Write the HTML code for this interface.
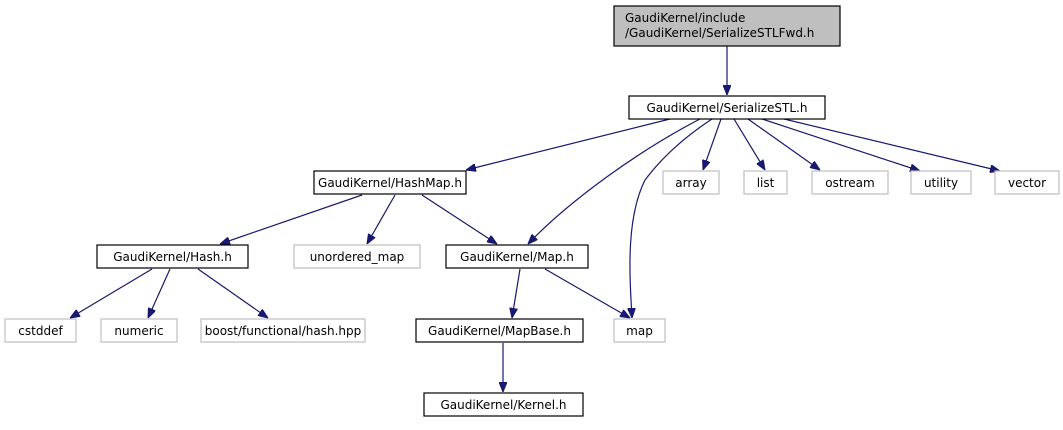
<!DOCTYPE html>
<html><head><meta charset="utf-8"><style>
body{margin:0;background:#fff}
svg text{font-family:"DejaVu Sans","Liberation Sans",sans-serif;font-size:12px}
</style></head><body>
<svg width="1063" height="425" viewBox="0 0 1063 425" xmlns="http://www.w3.org/2000/svg">
<defs><marker id="a" markerWidth="10" markerHeight="8" refX="10" refY="4" orient="auto" markerUnits="userSpaceOnUse"><path d="M0,0 L10,4 L0,8 Z" fill="#191970" stroke="#191970"/></marker></defs>
<g fill="none" stroke="#191970" stroke-width="1.2" marker-end="url(#a)">
<path d="M727,46 L727,95"/>
<path d="M670,119 L466,170"/>
<path d="M700,119 C640,150 570,200 528,244"/>
<path d="M712,119 C680,140 660,160 645,180 C625,220 630,280 632,318"/>
<path d="M721,119 L703,170"/>
<path d="M734,119 L765,170"/>
<path d="M748,119 L820,170"/>
<path d="M762,119 L920,171"/>
<path d="M784,119 L1000,171"/>
<path d="M362,195 L220,244"/>
<path d="M395,195 L367,244"/>
<path d="M422,195 L497,244"/>
<path d="M152,269 L70,318"/>
<path d="M170,269 L148,318"/>
<path d="M198,269 L268,318"/>
<path d="M520,269 L512,318"/>
<path d="M545,269 L630,318"/>
<path d="M503,343 L503,392"/>
</g>
<g stroke-width="1.2">
<rect x="614" y="6" width="226" height="40" fill="#bfbfbf" stroke="#000"/>
<rect x="629" y="96" width="196" height="23" fill="#fff" stroke="#000"/>
<rect x="314" y="171" width="152" height="23" fill="#fff" stroke="#000"/>
<rect x="97" y="245" width="151" height="23" fill="#fff" stroke="#000"/>
<rect x="446" y="245" width="142" height="23" fill="#fff" stroke="#000"/>
<rect x="416" y="319" width="167" height="23" fill="#fff" stroke="#000"/>
<rect x="424" y="393" width="159" height="23" fill="#fff" stroke="#000"/>
<g fill="#fff" stroke="#bfbfbf">
<rect x="663" y="171" width="56" height="23"/>
<rect x="744" y="171" width="43" height="23"/>
<rect x="812" y="171" width="76" height="23"/>
<rect x="911" y="171" width="60" height="23"/>
<rect x="995" y="171" width="64" height="23"/>
<rect x="294" y="245" width="126" height="23"/>
<rect x="5" y="319" width="71" height="23"/>
<rect x="101" y="319" width="76" height="23"/>
<rect x="201" y="319" width="164" height="23"/>
<rect x="614" y="319" width="51" height="23"/>
</g>
</g>
<g fill="#000">
<text x="625" y="22">GaudiKernel/include</text>
<text x="625" y="37">/GaudiKernel/SerializeSTLFwd.h</text>
<text x="727" y="112" text-anchor="middle">GaudiKernel/SerializeSTL.h</text>
<text x="390" y="187" text-anchor="middle">GaudiKernel/HashMap.h</text>
<text x="172.5" y="261" text-anchor="middle">GaudiKernel/Hash.h</text>
<text x="517" y="261" text-anchor="middle">GaudiKernel/Map.h</text>
<text x="499.5" y="335" text-anchor="middle">GaudiKernel/MapBase.h</text>
<text x="503.5" y="409" text-anchor="middle">GaudiKernel/Kernel.h</text>
</g>
<g fill="#000" text-anchor="middle">
<text x="691" y="187">array</text>
<text x="765.5" y="187">list</text>
<text x="850" y="187">ostream</text>
<text x="941" y="187">utility</text>
<text x="1027" y="187">vector</text>
<text x="357" y="261">unordered_map</text>
<text x="40.5" y="335">cstddef</text>
<text x="139" y="335">numeric</text>
<text x="283" y="335">boost/functional/hash.hpp</text>
<text x="639.5" y="335">map</text>
</g>
</svg>
</body></html>
